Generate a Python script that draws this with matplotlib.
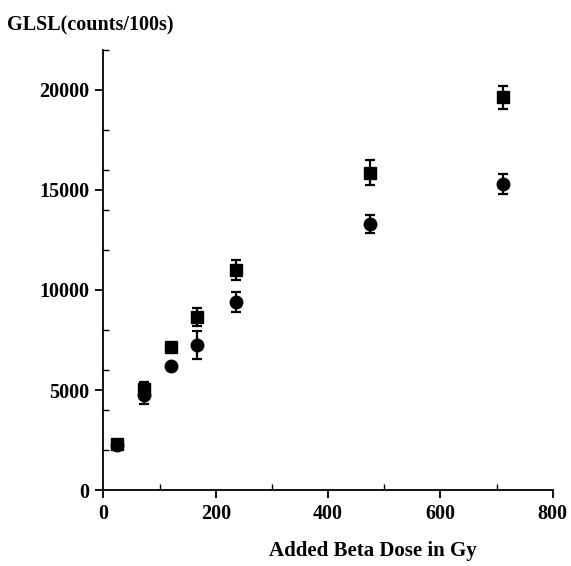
import numpy as np
import matplotlib.pyplot as plt
from matplotlib.ticker import MultipleLocator

# dosis añadida (Gy)
dose = [24, 72, 120, 167, 236, 474, 711]

# serie cuadrados
sq_val = [2300, 5050, 7150, 8650, 11000, 15850, 19620]
sq_err = [150, 350, 200, 450, 480, 620, 590]

# serie circulos
ci_val = [2250, 4750, 6200, 7250, 9400, 13300, 15300]
ci_err = [150, 450, 150, 700, 500, 430, 500]

plt.rcParams['font.family'] = ['Liberation Serif', 'DejaVu Serif']
plt.rcParams['font.weight'] = 'bold'

fig = plt.figure(figsize=(5.71, 5.66), dpi=100)
ax = fig.add_axes([0.181, 0.134, 0.787, 0.778])

ax.errorbar(dose, sq_val, yerr=sq_err, fmt='s', color='black', ms=9,
            elinewidth=1.6, capsize=3.5, capthick=1.6)
ax.errorbar(dose, ci_val, yerr=ci_err, fmt='o', color='black', ms=9,
            elinewidth=1.6, capsize=3.5, capthick=1.6)

ax.set_xlim(0, 800)
ax.set_ylim(0, 22000)
ax.set_xticks([0, 200, 400, 600, 800])
ax.set_yticks([0, 5000, 10000, 15000, 20000])
ax.xaxis.set_minor_locator(MultipleLocator(100))
ax.yaxis.set_minor_locator(MultipleLocator(2000))

ax.spines['top'].set_visible(False)
ax.spines['right'].set_visible(False)
for s in ['left', 'bottom']:
    ax.spines[s].set_linewidth(1.3)

ax.tick_params(which='major', direction='out', length=6, width=1.3,
               labelsize=14.5, pad=4)
ax.tick_params(which='minor', direction='in', length=4, width=1.0)
for lab in ax.get_xticklabels() + ax.get_yticklabels():
    lab.set_fontweight('bold')

ax.set_xlabel('Added Beta Dose in Gy', fontsize=15, fontweight='bold')
ax.xaxis.set_label_coords(0.6, -0.115)
fig.text(0.012, 0.955, 'GLSL(counts/100s)', fontsize=14.5, fontweight='bold',
         ha='left', va='center')

plt.savefig('out.png', dpi=100)
